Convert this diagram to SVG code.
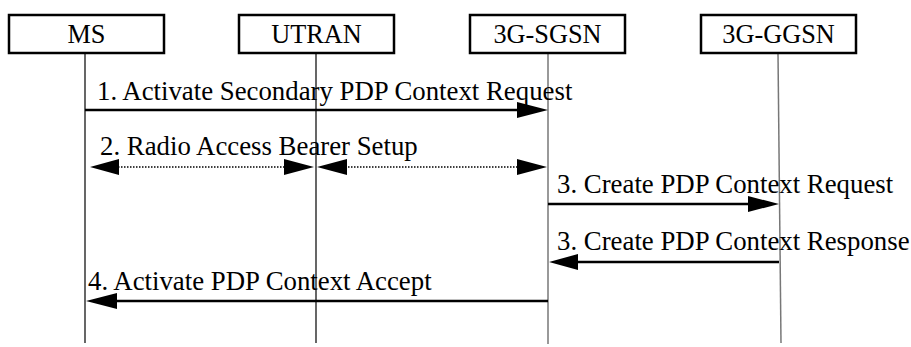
<svg xmlns="http://www.w3.org/2000/svg" width="911" height="347" viewBox="0 0 911 347">
<style>
.box{fill:#fff;stroke:#000;stroke-width:2.5}
.lbl{font-family:"Liberation Serif","Times New Roman",serif;font-size:26.8px;fill:#000}
.nl{font-family:"Liberation Serif","Times New Roman",serif;font-size:26.3px;fill:#000}
.life{stroke:#000;stroke-width:1.2;fill:none}
.lifeg{stroke:#777;stroke-width:1.5;fill:none}
.msg{stroke:#000;stroke-width:2.5;fill:none}
.dot{stroke:#000;stroke-width:1.5;stroke-dasharray:1.5 1.5;fill:none}
.head{fill:#000}
</style>
<rect width="911" height="347" fill="#fff"/>
<g id="lifelines">
<line class="life" x1="85" y1="53" x2="85" y2="343"/>
<line class="life" x1="316" y1="53" x2="316" y2="343"/>
<line class="lifeg" x1="548" y1="53" x2="548" y2="344"/>
<line class="lifeg" x1="778" y1="53" x2="781" y2="343"/>
</g>
<g id="node-ms"><rect class="box" x="9" y="15" width="155" height="38"/><text class="nl" x="86.5" y="43" text-anchor="middle">MS</text></g>
<g id="node-utran"><rect class="box" x="239" y="15" width="155" height="38"/><text class="nl" x="316.5" y="43" text-anchor="middle">UTRAN</text></g>
<g id="node-sgsn"><rect class="box" x="470" y="15" width="155" height="38"/><text class="nl" x="547.5" y="43" text-anchor="middle">3G-SGSN</text></g>
<g id="node-ggsn"><rect class="box" x="701" y="15" width="155" height="38"/><text class="nl" x="778.5" y="43" text-anchor="middle">3G-GGSN</text></g>
<g id="connectors">
<line class="msg" x1="85" y1="110" x2="520" y2="110"/>
<polygon class="head" points="548,110 517,102 517,118"/>
<text class="lbl" x="97" y="100">1. Activate Secondary PDP Context Request</text>

<line class="dot" x1="115" y1="167" x2="287" y2="167"/>
<polygon class="head" points="90,167 119,159 119,175"/>
<polygon class="head" points="314,167 284,159 284,175"/>
<line class="dot" x1="345" y1="167" x2="520" y2="167"/>
<polygon class="head" points="317,167 347,159 347,175"/>
<polygon class="head" points="547,167 517,159 517,175"/>
<text class="lbl" x="100" y="155">2. Radio Access Bearer Setup</text>

<line class="msg" x1="548" y1="204" x2="752" y2="204"/>
<polygon class="head" points="779,204 748,196 748,212"/>
<text class="lbl" x="557" y="193">3. Create PDP Context Request</text>

<line class="msg" x1="779" y1="262" x2="575" y2="262"/>
<polygon class="head" points="549,262 578,254 578,270"/>
<text class="lbl" x="557" y="250">3. Create PDP Context Response</text>

<line class="msg" x1="548" y1="301" x2="112" y2="301"/>
<polygon class="head" points="86,301 117,293 117,309"/>
<text class="lbl" x="88" y="290">4. Activate PDP Context Accept</text>
</g>
</svg>
